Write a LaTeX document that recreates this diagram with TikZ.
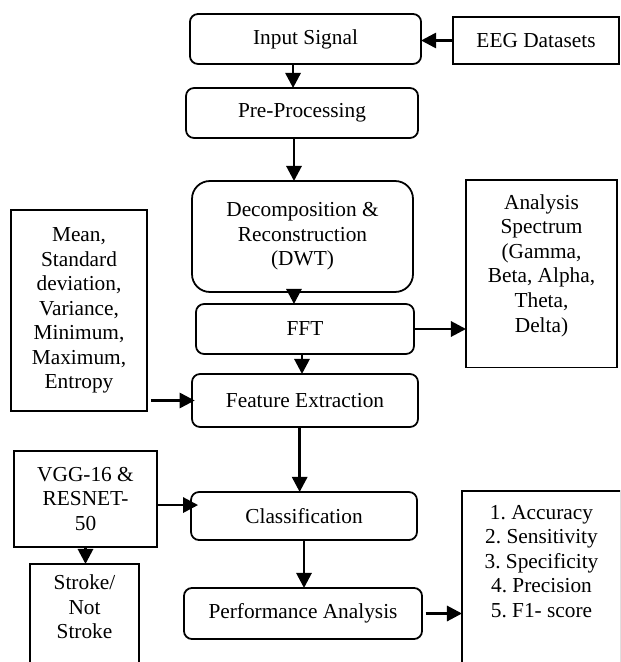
\documentclass[tikz,border=0pt]{standalone}
\usepackage{fontspec}
\setmainfont{Liberation Serif}
\usepackage{xcolor}
\usetikzlibrary{arrows.meta}
\definecolor{flowInk}{HTML}{000000}
\frenchspacing

\begin{document}
\begin{tikzpicture}[
x=0.5625pt,y=-0.5625pt,
outer sep=0pt,inner sep=0pt,
font=\fontsize{12}{13.8}\selectfont,
stage/.style={
draw=flowInk,
line width=1pt,
rounded corners=4.5pt,
align=center,
},
sidebox/.style={
draw=flowInk,
line width=1pt,
align=center,
},
flow/.style={
draw=flowInk,
line width=1.6pt,
-{Triangle[length=8.5pt,width=8.5pt]},
},
]
\useasboundingbox (0,0) rectangle (620,662);
\clip (0,0) rectangle (620,662);

\node[stage,minimum width=130pt,minimum height=28.1pt] (inp) at (305.5,39) {Input Signal};
\node[sidebox,minimum width=93.4pt,minimum height=26.4pt] (eeg) at (536,40.5) {EEG Datasets};
\node[stage,minimum width=130.5pt,minimum height=28.1pt] (pre) at (302,113) {Pre-Processing};
\node[stage,rounded corners=10pt,minimum width=124.3pt,minimum height=62.4pt] (dwt) at (302.5,236.5)
{Decomposition \&\\Reconstruction\\(DWT)};
\node[stage,minimum width=122.6pt,minimum height=28.1pt] (fft) at (305,329) {FFT};
\node[stage,minimum width=127.1pt,minimum height=29.8pt] (feat) at (305,400.5) {Feature Extraction};
\node[sidebox,minimum width=76.5pt,minimum height=113.1pt] (stats) at (79,310.5)
{Mean,\\Standard\\deviation,\\Variance,\\Minimum,\\Maximum,\\Entropy};
\node[
sidebox,
anchor=north,
minimum width=84.9pt,
inner ysep=8.2pt,
text depth=11.7pt,
] (spec) at (541.5,180) {Analysis\\Spectrum\\(Gamma,\\Beta, Alpha,\\Theta,\\Delta)};
\node[sidebox,minimum width=80.4pt,minimum height=54pt] (vgg) at (85.5,499) {VGG-16 \&\\RESNET-\\50};
\node[stage,minimum width=127.1pt,minimum height=27pt] (cls) at (304,516) {Classification};
\node[
sidebox,
anchor=north,
minimum width=61.3pt,
inner ysep=6pt,
text depth=60pt,
] (verdict) at (84.5,564) {Stroke/\\Not\\Stroke};
\node[stage,minimum width=133.9pt,minimum height=28.7pt] (perf) at (303,613.5) {Performance Analysis};
\node[
sidebox,
anchor=north,
minimum width=89.4pt,
inner ysep=8pt,
text depth=60pt,
] (met) at (541.5,491) {1. Accuracy\\2. Sensitivity\\3. Specificity\\4. Precision\\5. F1- score};

\draw[flow] (eeg.west) -- (eeg.west -| inp.east);
\draw[flow] ([xshift=-7pt]inp.south) -- ([xshift=-7pt]inp.south |- pre.north);
\draw[flow] ([xshift=-4.5pt]pre.south) -- ([xshift=-4.5pt]pre.south |- dwt.north);
\draw[flow] ([xshift=-4.8pt]dwt.south) -- ([xshift=-4.8pt]dwt.south |- fft.north);
\draw[flow] ([xshift=-1.7pt]fft.south) -- ([xshift=-1.7pt]fft.south |- feat.north);
\draw[flow] (fft.east) -- (fft.east -| spec.west);
\draw[flow] ([xshift=2.2pt]stats.east |- feat.west) -- ([xshift=1.5pt]feat.west);
\draw[flow] ([xshift=-3pt]feat.south) -- ([xshift=-3pt]feat.south |- cls.north);
\draw[flow] ([yshift=-3.4pt]vgg.east) -- ([xshift=4pt,yshift=-3.4pt]vgg.east -| cls.west);
\draw[flow] (vgg.south) -- (vgg.south |- verdict.north);
\draw[flow] (cls.south) -- (cls.south |- perf.north);
\draw[flow] ([xshift=2pt]perf.east) -- (perf.east -| met.west);
\end{tikzpicture}
\end{document}
